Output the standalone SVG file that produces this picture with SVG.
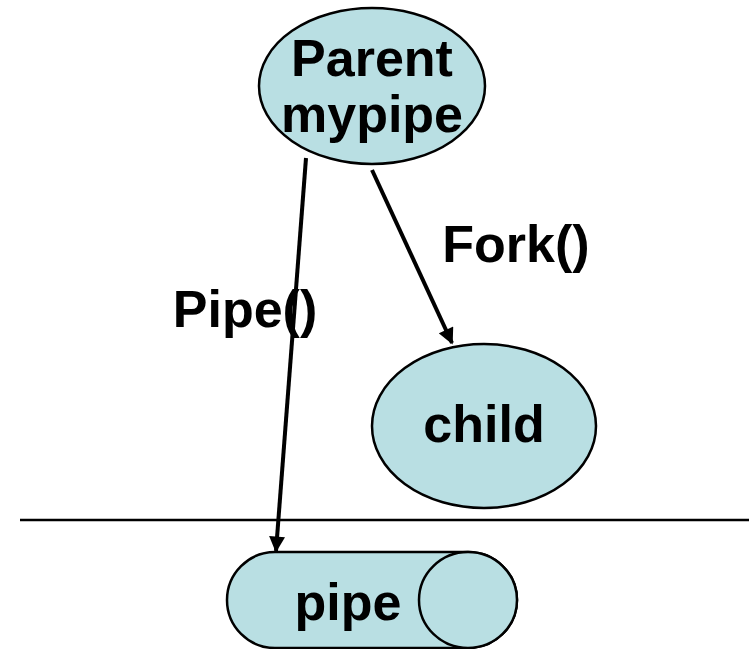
<svg xmlns="http://www.w3.org/2000/svg" width="749" height="649" viewBox="0 0 749 649">
  <style>
    .shape { fill: #b9dfe3; stroke: #000; stroke-width: 2.5; }
    .label { font-family: "Liberation Sans", Arial, sans-serif; font-weight: bold; font-size: 52px; fill: #000; text-anchor: middle; }
    .edge { stroke: #000; stroke-width: 4; fill: none; marker-end: url(#arrow); }
  </style>
  <defs>
    <marker id="arrow" viewBox="0 0 10 10" refX="9" refY="5" markerWidth="4.2" markerHeight="4" orient="auto" markerUnits="strokeWidth">
      <path d="M0,0 L10,5 L0,10 Z" fill="#000"/>
    </marker>
  </defs>
  <rect width="749" height="649" fill="#fff"/>

  <!-- divider line -->
  <line x1="20" y1="520" x2="749" y2="520" stroke="#000" stroke-width="2.5"/>

  <g id="parent">
    <ellipse class="shape" cx="372" cy="86" rx="113" ry="78"/>
    <text class="label" x="372" y="76">Parent</text>
    <text class="label" x="372" y="132">mypipe</text>
  </g>

  <g id="child">
    <ellipse class="shape" cx="484" cy="426" rx="112" ry="82"/>
    <text class="label" x="484" y="442">child</text>
  </g>

  <g id="pipe">
    <path class="shape" d="M275,552 L468,552 A49,48 0 0 1 468,648 L275,648 A48,48 0 0 1 275,552 Z"/>
    <ellipse class="shape" cx="468" cy="600" rx="49" ry="48"/>
    <text class="label" x="348" y="620">pipe</text>
  </g>

  <g id="connectors">
    <line class="edge" x1="306" y1="158" x2="276" y2="551"/>
    <line class="edge" x1="372" y1="170" x2="452" y2="343"/>
    <text class="label" x="516" y="262">Fork()</text>
    <text class="label" x="245" y="327">Pipe()</text>
  </g>
</svg>
